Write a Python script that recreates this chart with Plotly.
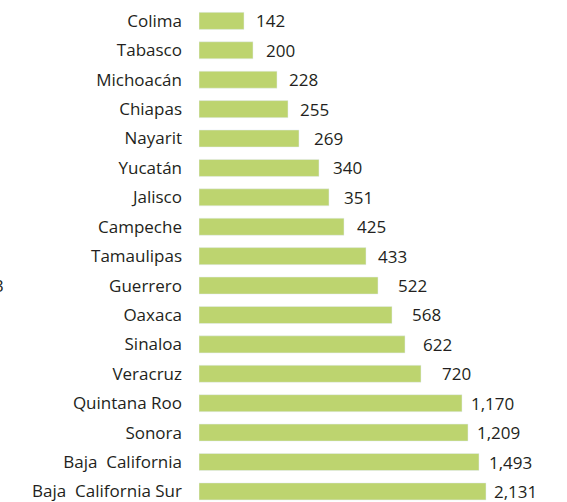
import plotly.graph_objects as go

# States, top to bottom
states = ['Colima', 'Tabasco', 'Michoacán', 'Chiapas', 'Nayarit', 'Yucatán',
          'Jalisco', 'Campeche', 'Tamaulipas', 'Guerrero', 'Oaxaca', 'Sinaloa',
          'Veracruz', 'Quintana Roo', 'Sonora', 'Baja  California',
          'Baja  California Sur']

# Printed values
values = [142, 200, 228, 255, 269, 340, 351, 425, 433, 522, 568, 622, 720,
          1170, 1209, 1493, 2131]

# Bar lengths as drawn in the original graphic (not proportional to values)
bar_lengths = [45, 54, 78, 89, 100, 120, 130, 145, 167, 179, 193, 206, 222,
               263, 269, 280, 287]

labels = [f'{v:,}' for v in values]

# gap (px) between bar end and its value label, as laid out in the original
label_gaps = [11, 12, 11, 11, 14, 13, 14, 12, 11, 19, 19, 17, 20, 8, 8, 9, 7]

fig = go.Figure()

fig.add_trace(
    go.Bar(
        y=states,
        x=bar_lengths,
        orientation='h',
        marker_color='#bdd46f',
        width=0.58,
        hoverinfo='skip'
    )
)

# Value labels next to the bar ends
for state, length, label, gap in zip(states, bar_lengths, labels, label_gaps):
    fig.add_annotation(
        x=length, y=state, text=label, showarrow=False,
        xanchor='left', xshift=gap - 1,
        font=dict(size=17, color='#231f20')
    )

# cut-off text fragment at the left edge
fig.add_annotation(
    x=-200 / 368, y=9, xref='paper', yref='y',
    text='3', showarrow=False, xanchor='center',
    font=dict(size=17, color='#231f20')
)

fig.update_xaxes(range=[0, 368], visible=False, automargin=False)
fig.update_yaxes(
    range=[16.36, -0.54],
    showgrid=False,
    showline=False,
    ticks='',
    ticklabelstandoff=16,
    automargin=False,
    tickfont=dict(size=17, color='#231f20')
)

fig.update_layout(
    width=567,
    height=502,
    margin=dict(l=199, r=0, t=5, b=0),
    paper_bgcolor='white',
    plot_bgcolor='white',
    font=dict(family='Open Sans'),
    showlegend=False
)

# drop the page's default body margin so the figure fills the window
fig.write_html('out.html', config={'displayModeBar': False},
               post_script="document.body.style.margin='0';")
